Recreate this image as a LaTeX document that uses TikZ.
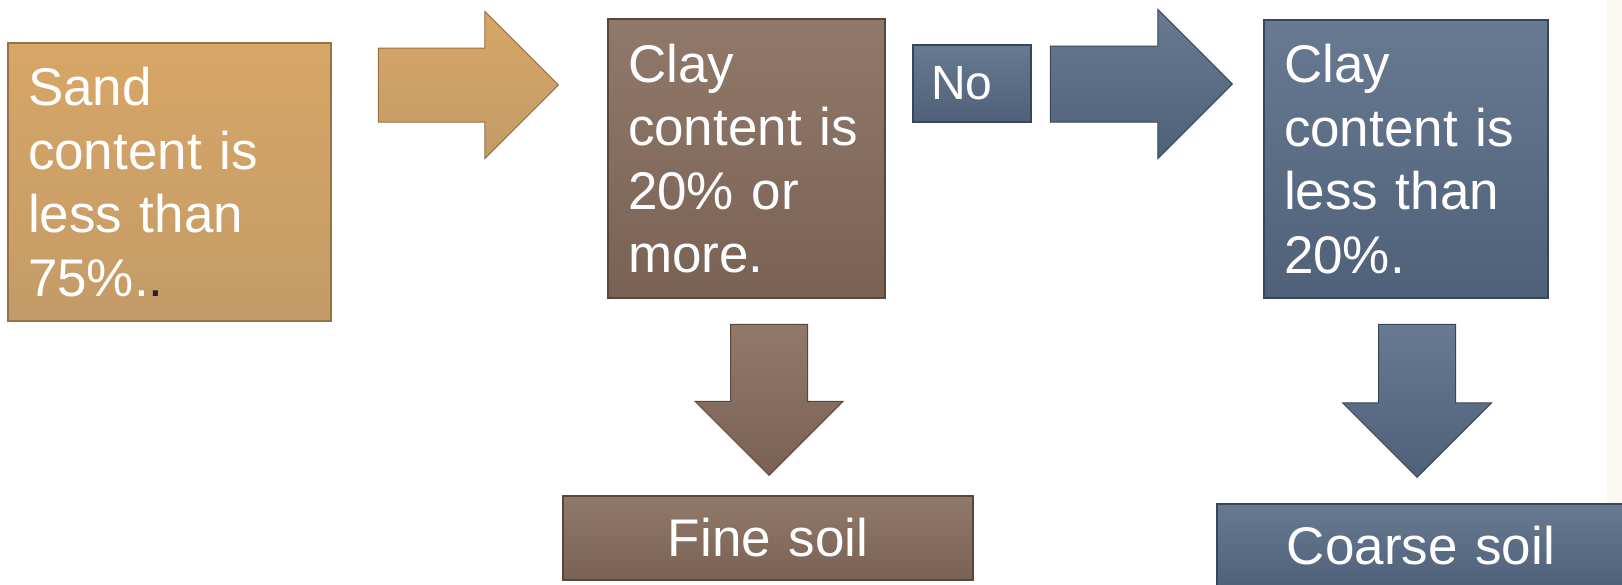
\documentclass[tikz,border=0pt]{standalone}
\usepackage{fontspec}
\setmainfont{Liberation Sans}
\usepackage{xcolor}
\usetikzlibrary{shapes.arrows,positioning}

\definecolor{sandtop}{RGB}{216,166,102}
\definecolor{sandbot}{RGB}{195,155,104}
\definecolor{sandline}{RGB}{150,114,70}
\definecolor{claytop}{RGB}{145,121,106}
\definecolor{claybot}{RGB}{121,98,84}
\definecolor{clayline}{RGB}{90,71,60}
\definecolor{bluetop}{RGB}{103,122,145}
\definecolor{bluebot}{RGB}{79,97,120}
\definecolor{blueline}{RGB}{56,70,90}
\definecolor{dotdark}{RGB}{28,34,46}
\definecolor{stripbg}{RGB}{251,249,242}

\begin{document}
\begin{tikzpicture}[x=1pt, y=-1pt,
    txt/.style={text=white, font=\fontsize{53}{63.5}\selectfont},
    block_sand/.style={rectangle, draw=sandline, line width=1.2pt, top color=sandtop, bottom color=sandbot, txt},
    block_clay/.style={rectangle, draw=clayline, line width=1.2pt, top color=claytop, bottom color=claybot, txt},
    block_blue/.style={rectangle, draw=blueline, line width=1.2pt, top color=bluetop, bottom color=bluebot, txt},
    tall/.style={inner xsep=20pt, inner ysep=0pt, align=left},
    wide/.style={inner xsep=0pt, inner ysep=0pt, align=center},
    arr/.style={single arrow, single arrow head extend=36.5pt, single arrow head indent=0pt,
        inner sep=0pt, text depth=0pt, line width=1pt, anchor=tip}]

    % frame of the slide
    \useasboundingbox (0,0) rectangle (1622,584);
    \fill[stripbg] (1607,0) rectangle (1622,584);

    % Top row: test boxes
    \node [block_sand, tall, text width=283pt, minimum width=323pt, minimum height=278pt] (sand_box) at (169.5,182)
        {Sand\\content is\\less than\\75\%.{\color{dotdark}.}};
    \node [block_clay, tall, text width=237pt, minimum width=277pt, minimum height=279pt] (clay_more) at (746.5,158.5)
        {Clay\\content is\\20\% or\\more.};
    \node [block_blue, tall, inner xsep=18pt, text width=82pt, minimum width=118pt, minimum height=77pt,
        font=\fontsize{48}{56}\selectfont] (no_box) at (972,83.5) {No};
    \node [block_blue, tall, text width=244pt, minimum width=284pt, minimum height=278pt] (clay_less) at (1406,159)
        {Clay\\content is\\less than\\20\%.};

    % Bottom row: soil classes
    \node [block_clay, wide, text width=410pt, minimum width=410pt, minimum height=84pt] (fine_soil) at (768,538) {Fine soil};
    \node [block_blue, wide, text width=408pt, minimum width=408pt, minimum height=84pt] (coarse_soil) at (1421,546) {Coarse soil};

    % Block arrows (placed by their tips)
    \node [arr, draw=sandline, top color=sandtop, bottom color=sandbot, minimum height=180pt, text height=73pt] (arr_sand) at (559,85) {};
    \node [arr, draw=blueline, top color=bluetop, bottom color=bluebot, minimum height=182pt, text height=75pt] (arr_no) at (1233,84) {};
    \node [arr, draw=clayline, top color=claytop, bottom color=claybot, shape border rotate=270, minimum height=151pt,
        text height=0pt, text width=76pt, single arrow head extend=35.5pt] (arr_fine) at (769,476) {};
    \node [arr, draw=blueline, top color=bluetop, bottom color=bluebot, shape border rotate=270, minimum height=153pt,
        text height=0pt, text width=76pt, single arrow head extend=36pt] (arr_coarse) at (1417,478) {};
\end{tikzpicture}
\end{document}
